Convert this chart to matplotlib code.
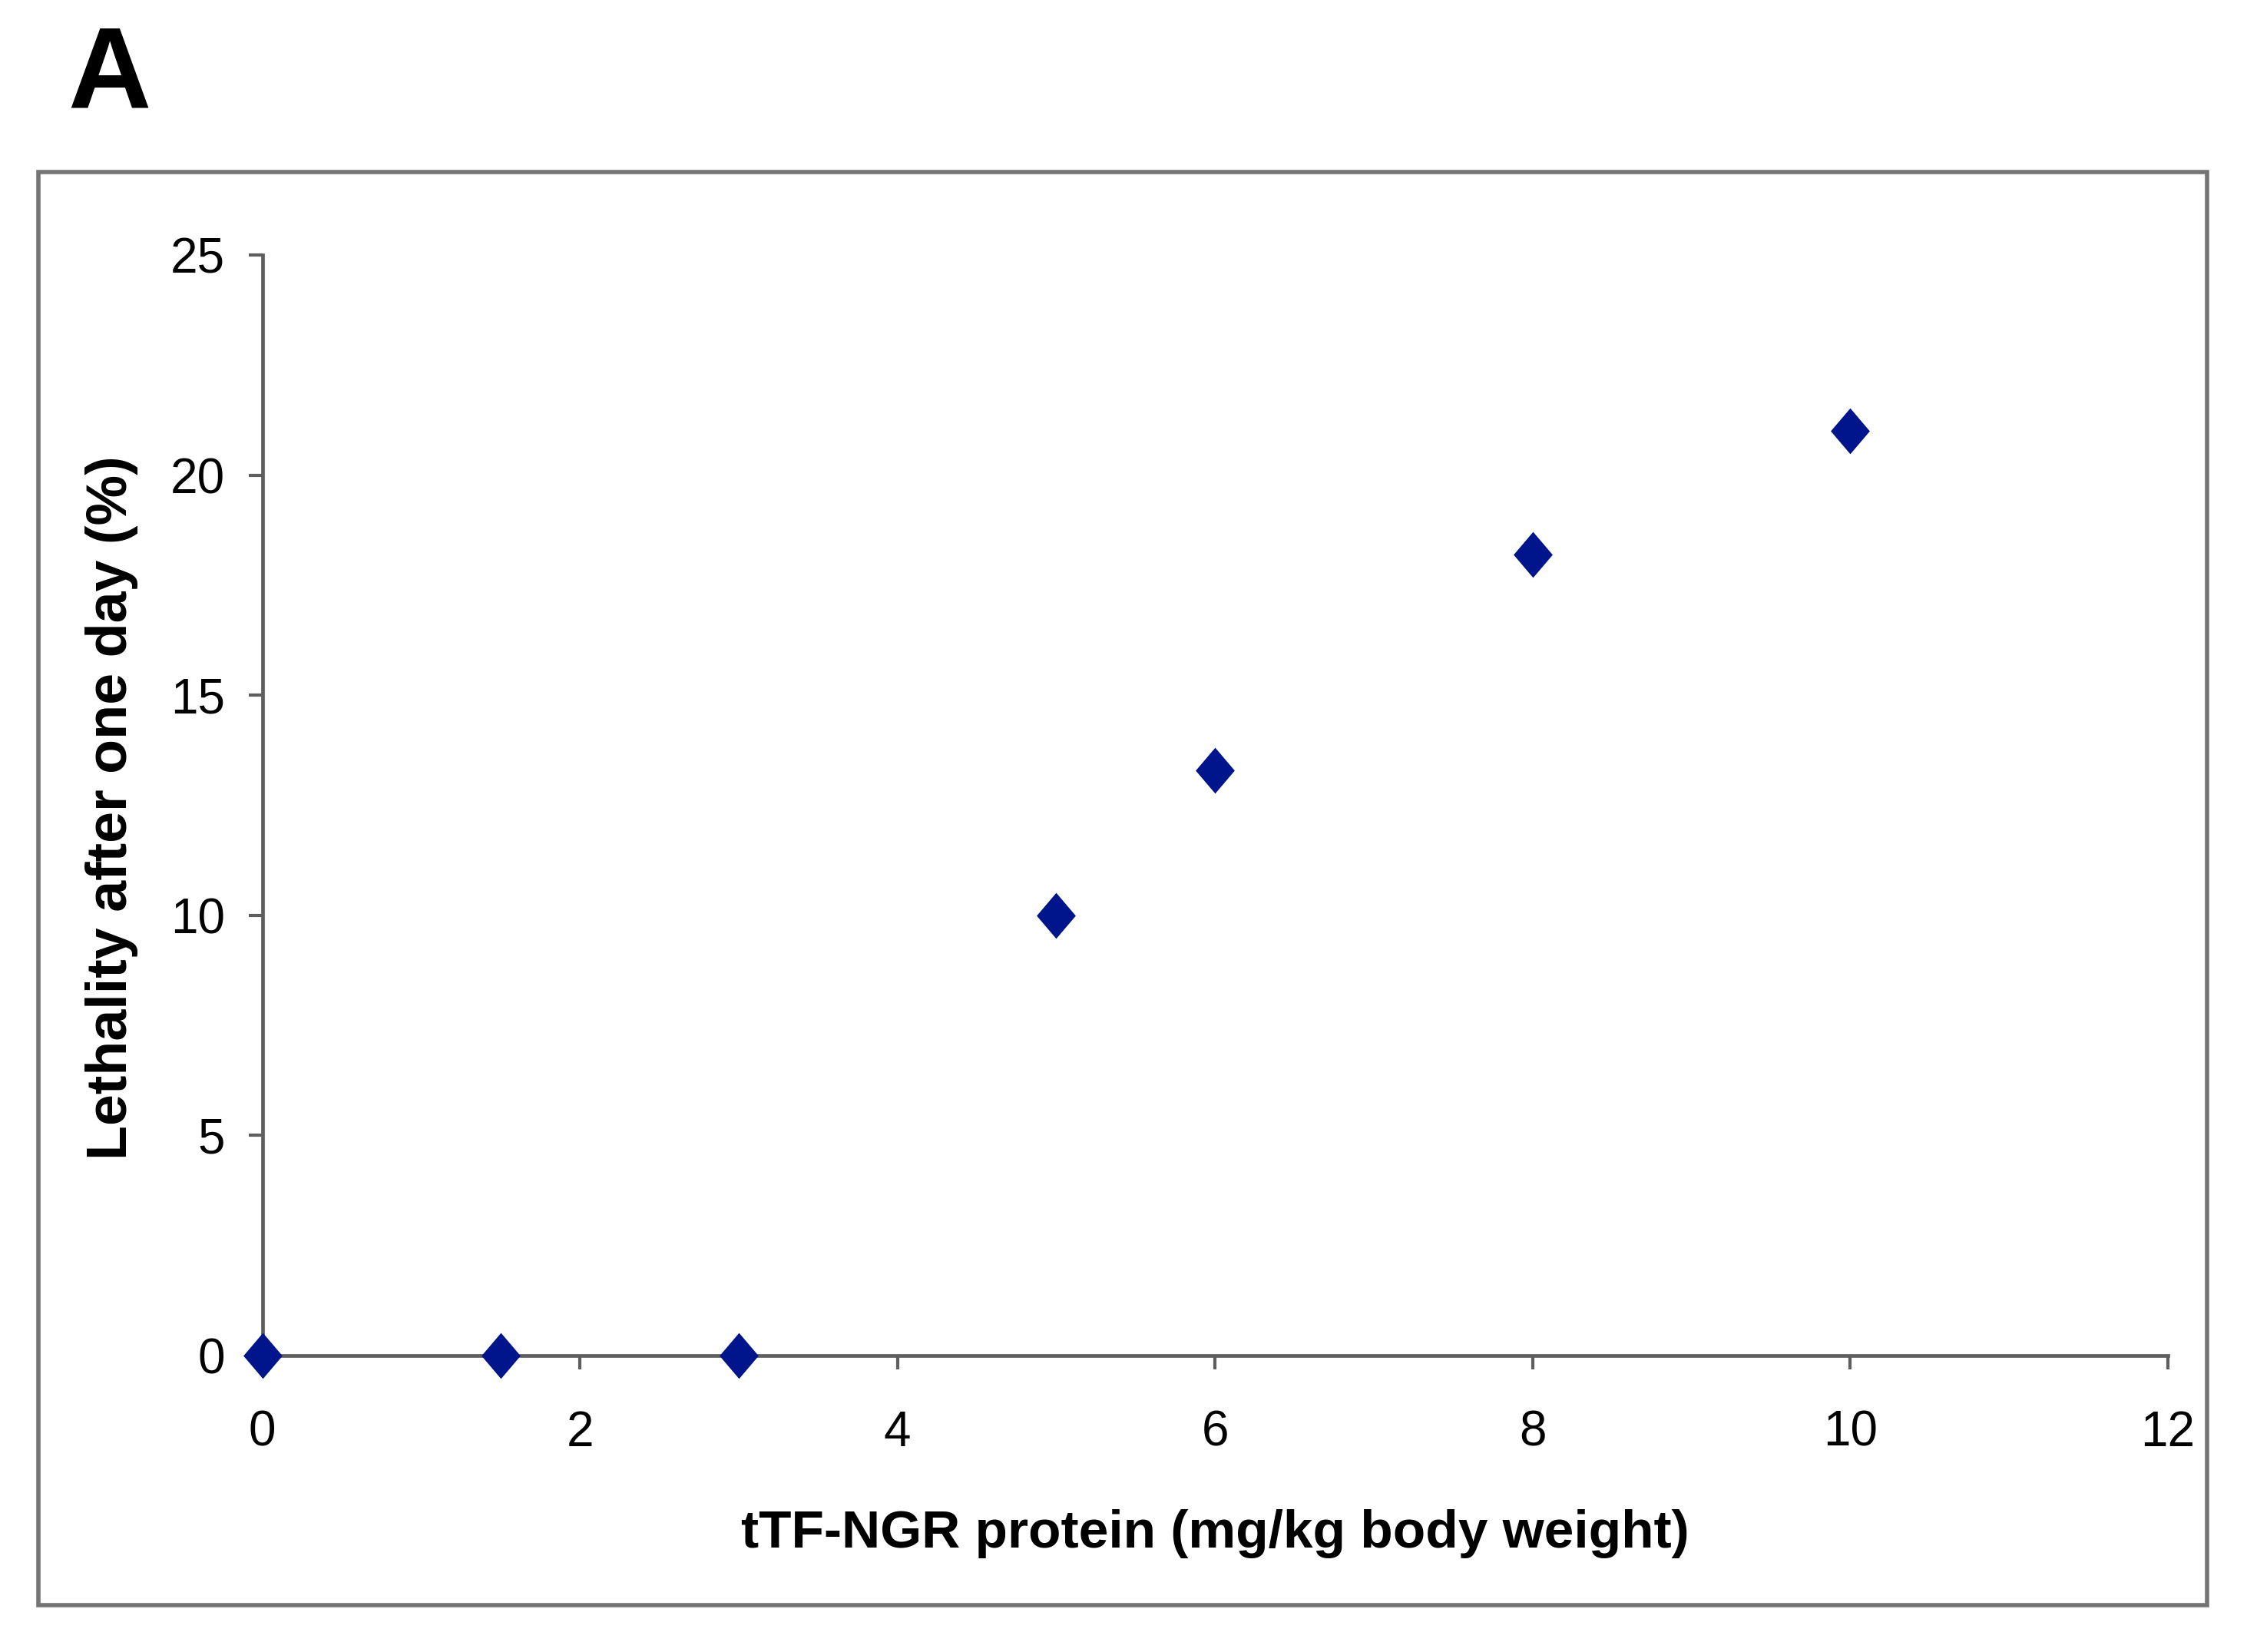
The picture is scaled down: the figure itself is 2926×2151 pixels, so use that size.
import matplotlib
matplotlib.use("Agg")
import matplotlib.pyplot as plt
from matplotlib.patches import Rectangle

# dose (mg/kg) vs lethality after one day (%)
dose = [0, 1.5, 3, 5, 6, 8, 10]
lethality = [0, 0, 0, 10, 13.3, 18.2, 21]
xticks = [0, 2, 4, 6, 8, 10, 12]
yticks = [0, 5, 10, 15, 20, 25]

plt.rcParams['font.family'] = ['Liberation Sans', 'DejaVu Sans']

fig = plt.figure(figsize=(29.26, 21.51), dpi=100)
fig.patch.set_facecolor('white')

# outer frame round the panel
fig.patches.append(Rectangle((50 / 2926, 1 - 2090 / 2151), (2874 - 50) / 2926,
                             (2090 - 224) / 2151, transform=fig.transFigure,
                             fill=False, edgecolor='#747474', linewidth=4))

ax = fig.add_axes([341.5 / 2926, 1 - 1765 / 2151, (2823 - 341.5) / 2926, (1765 - 332) / 2151])

# slightly tall diamond, like the excel marker
diamond = [(0, 1), (0.85, 0), (0, -1), (-0.85, 0), (0, 1)]
ax.plot(dose, lethality, linestyle='none', marker=diamond, markersize=43,
        color='#00148c', markeredgewidth=0, clip_on=False, zorder=5)

ax.set_xlim(0, 12)
ax.set_ylim(0, 25)
ax.set_xticks(xticks)
ax.set_yticks(yticks)
for s in ['top', 'right']:
    ax.spines[s].set_visible(False)
for s in ['left', 'bottom']:
    ax.spines[s].set_color('#5e5e5e')
    ax.spines[s].set_linewidth(3.4)
ax.tick_params(axis='both', direction='out', length=13, width=3, color='#5e5e5e',
               labelsize=46)
ax.tick_params(axis='x', pad=38)
ax.tick_params(axis='y', pad=22)

ax.set_xlabel('tTF-NGR protein (mg/kg body weight)', fontsize=50, fontweight='bold', va='center')
ax.xaxis.set_label_coords(0.5, -0.162)
ax.set_ylabel('Lethality after one day (%)', fontsize=53, fontweight='bold', va='center')
ax.yaxis.set_label_coords(-0.0788, 0.498)

fig.text(88 / 2926, 1 - 140 / 2151, 'A', fontsize=108, fontweight='bold', ha='left', va='baseline')

fig.savefig('out.png', dpi=100, facecolor='white')
